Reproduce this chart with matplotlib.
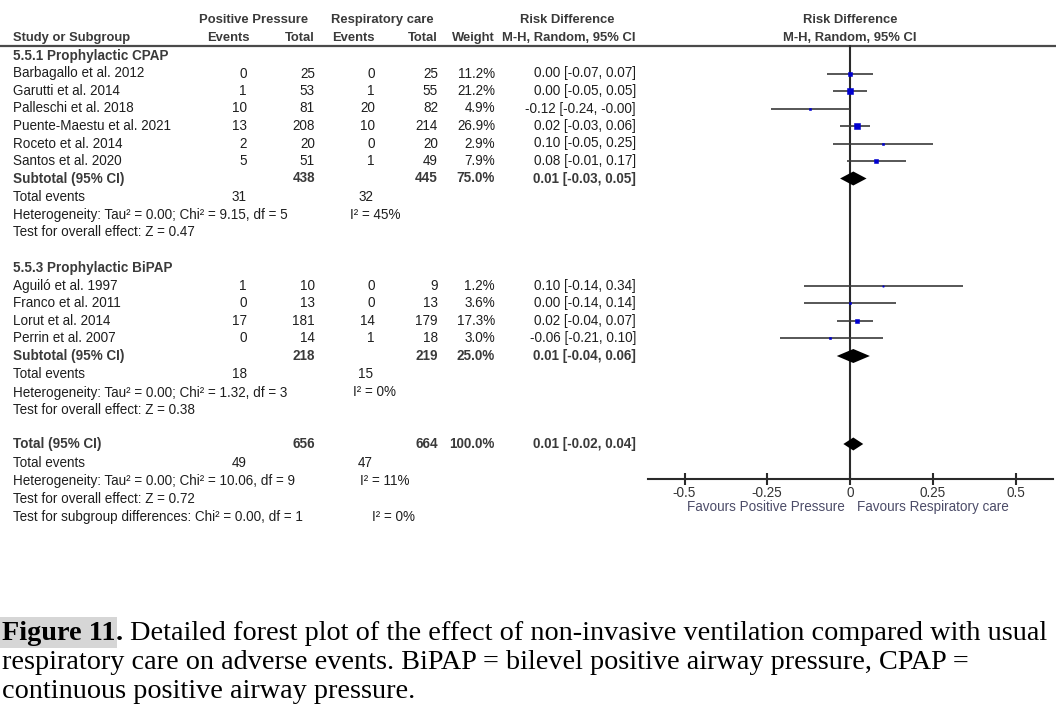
import matplotlib
matplotlib.use("Agg")
import matplotlib.pyplot as plt
from matplotlib.patches import Rectangle

# ---------------- data ----------------
cpap_label = "5.5.1 Prophylactic CPAP"
cpap_studies = ["Barbagallo et al. 2012", "Garutti et al. 2014", "Palleschi et al. 2018",
                "Puente-Maestu et al. 2021", "Roceto et al. 2014", "Santos et al. 2020"]
cpap_pp_events = [0, 1, 10, 13, 2, 5]
cpap_pp_total = [25, 53, 81, 208, 20, 51]
cpap_rc_events = [0, 1, 20, 10, 0, 1]
cpap_rc_total = [25, 55, 82, 214, 20, 49]
cpap_weight = [11.2, 21.2, 4.9, 26.9, 2.9, 7.9]
cpap_rd = [0.00, 0.00, -0.12, 0.02, 0.10, 0.08]
cpap_lo = [-0.07, -0.05, -0.24, -0.03, -0.05, -0.01]
cpap_hi = [0.07, 0.05, -0.0, 0.06, 0.25, 0.17]
cpap_sub_totals = [438, 445]
cpap_sub_weight = 75.0
cpap_sub_ci = [0.01, -0.03, 0.05]
cpap_events = [31, 32]
cpap_het = "Heterogeneity: Tau\u00b2 = 0.00; Chi\u00b2 = 9.15, df = 5"
cpap_i2 = "I\u00b2 = 45%"
cpap_z = "Test for overall effect: Z = 0.47"

bipap_label = "5.5.3 Prophylactic BiPAP"
bipap_studies = ["Aguil\u00f3 et al. 1997", "Franco et al. 2011", "Lorut et al. 2014", "Perrin et al. 2007"]
bipap_pp_events = [1, 0, 17, 0]
bipap_pp_total = [10, 13, 181, 14]
bipap_rc_events = [0, 0, 14, 1]
bipap_rc_total = [9, 13, 179, 18]
bipap_weight = [1.2, 3.6, 17.3, 3.0]
bipap_rd = [0.10, 0.00, 0.02, -0.06]
bipap_lo = [-0.14, -0.14, -0.04, -0.21]
bipap_hi = [0.34, 0.14, 0.07, 0.10]
bipap_sub_totals = [218, 219]
bipap_sub_weight = 25.0
bipap_sub_ci = [0.01, -0.04, 0.06]
bipap_events = [18, 15]
bipap_het = "Heterogeneity: Tau\u00b2 = 0.00; Chi\u00b2 = 1.32, df = 3"
bipap_i2 = "I\u00b2 = 0%"
bipap_z = "Test for overall effect: Z = 0.38"

total_totals = [656, 664]
total_weight = 100.0
total_ci = [0.01, -0.02, 0.04]
total_events = [49, 47]
total_het = "Heterogeneity: Tau\u00b2 = 0.00; Chi\u00b2 = 10.06, df = 9"
total_i2 = "I\u00b2 = 11%"
total_z = "Test for overall effect: Z = 0.72"
subgroup_test = "Test for subgroup differences: Chi\u00b2 = 0.00, df = 1"
subgroup_i2 = "I\u00b2 = 0%"

xticks = [-0.5, -0.25, 0, 0.25, 0.5]
xtick_labels = ["-0.5", "-0.25", "0", "0.25", "0.5"]
favours_left = "Favours Positive Pressure"
favours_right = "Favours Respiratory care"

caption_bold = "Figure 11"
caption_l1 = " Detailed forest plot of the effect of non-invasive ventilation compared with usual"
caption_l2 = "respiratory care on adverse events. BiPAP = bilevel positive airway pressure, CPAP ="
caption_l3 = "continuous positive airway pressure."

# ---------------- layout ----------------
W, H = 1056, 720
SANS = ["Liberation Sans", "DejaVu Sans"]
SERIF = ["Liberation Serif", "DejaVu Serif"]
FS = 9.75
FS_HDR = 9.4
HDR_C = "#3a3a3a"
TXT_C = "#1e1e1e"

X_LEFT = 13
C_EV1, C_TOT1, C_EV2, C_TOT2, C_W, C_CI = 247, 315, 375, 438, 495, 636
AX_L, AX_R = 648, 1053
ZERO_PX, UNIT_PX = 850, 331
AX_TOP, AX_BOT = 45, 479

fig = plt.figure(figsize=(W / 100, H / 100), dpi=100)
ax = fig.add_axes([0, 0, 1, 1])
ax.set_xlim(0, W)
ax.set_ylim(H, 0)
ax.axis("off")

axf = fig.add_axes([AX_L / W, 1 - AX_BOT / H, (AX_R - AX_L) / W, (AX_BOT - AX_TOP) / H])
axf.set_xlim((AX_L - ZERO_PX) / UNIT_PX, (AX_R - ZERO_PX) / UNIT_PX)
axf.set_ylim(AX_BOT, AX_TOP)
axf.patch.set_visible(False)
for s in ["top", "left", "right"]:
    axf.spines[s].set_visible(False)
axf.spines["bottom"].set_linewidth(1.5)
axf.spines["bottom"].set_color("#2a2a2a")
axf.set_yticks([])
axf.set_xticks(xticks)
axf.set_xticklabels(xtick_labels, family=SANS, fontsize=FS, color="#333333")
axf.tick_params(axis="x", direction="inout", length=8, width=1.5, color="#2a2a2a", pad=1)
axf.axvline(0, color="#2a2a2a", lw=1.5, zorder=1)


def t(x, y, s, ha="left", bold=False, color=None, size=None):
    ax.text(x, y, s, ha=ha, va="center", family=SANS,
            fontsize=size or (FS_HDR if bold else FS),
            fontweight="bold" if bold else "normal",
            color=color or (HDR_C if bold else TXT_C))


def ci_text(rd, lo, hi):
    return f"{rd:.2f} [{lo:.2f}, {hi:.2f}]"


# header
t((C_EV1 - 54 + C_TOT1) / 2, 20, "Positive Pressure", ha="center", bold=True)
t((C_EV2 - 48 + C_TOT2) / 2, 20, "Respiratory care", ha="center", bold=True)
t(567, 20, "Risk Difference", ha="center", bold=True)
t(ZERO_PX, 20, "Risk Difference", ha="center", bold=True)
t(X_LEFT, 38, "Study or Subgroup", bold=True)
t(C_EV1 + 3, 38, "Events", ha="right", bold=True)
t(C_TOT1, 38, "Total", ha="right", bold=True)
t(C_EV2, 38, "Events", ha="right", bold=True)
t(C_TOT2, 38, "Total", ha="right", bold=True)
t(C_W, 38, "Weight", ha="right", bold=True)
t(C_CI, 38, "M-H, Random, 95% CI", ha="right", bold=True)
t(ZERO_PX, 38, "M-H, Random, 95% CI", ha="center", bold=True)
ax.plot([0, W], [45.5, 45.5], color="#4a4a4a", lw=1.6, solid_capstyle="butt")


def diamond(y, rd, lo, hi, h):
    axf.fill([lo, rd, hi, rd], [y, y - h, y, y + h], color="black", zorder=3, lw=0)


def group(label, y0, studies, e1, n1, e2, n2, w, rd, lo, hi,
          sub_tot, sub_w, sub_ci, events, het, i2, z, i2x, step):
    t(X_LEFT, y0, label, bold=True, size=FS)
    for i, name in enumerate(studies):
        y = y0 + step * (i + 1)
        t(X_LEFT, y, name)
        t(C_EV1, y, str(e1[i]), ha="right")
        t(C_TOT1, y, str(n1[i]), ha="right")
        t(C_EV2, y, str(e2[i]), ha="right")
        t(C_TOT2, y, str(n2[i]), ha="right")
        t(C_W, y, f"{w[i]:.1f}%", ha="right")
        t(C_CI, y, ci_text(rd[i], lo[i], hi[i]), ha="right")
        axf.plot([lo[i], hi[i]], [y, y], color="#3a3a3a", lw=1.2, zorder=2, solid_capstyle="butt")
        side_px = 1.2 * w[i] ** 0.5
        axf.plot(rd[i], y, marker="s", ms=side_px * 0.72, color="#0000d0", mec="#0000d0",
                 mew=0.4, zorder=4)
    ys = y0 + step * (len(studies) + 1)
    t(X_LEFT, ys, "Subtotal (95% CI)", bold=True, size=FS)
    t(C_TOT1, ys, str(sub_tot[0]), ha="right", bold=True, size=FS)
    t(C_TOT2, ys, str(sub_tot[1]), ha="right", bold=True, size=FS)
    t(C_W, ys, f"{sub_w:.1f}%", ha="right", bold=True, size=FS)
    t(C_CI, ys, ci_text(*sub_ci), ha="right", bold=True, size=FS)
    diamond(ys, sub_ci[0], sub_ci[1], sub_ci[2], 7)
    t(X_LEFT, ys + 18.5, "Total events")
    t(C_EV1, ys + 18.5, str(events[0]), ha="right")
    t(C_EV2 - 2, ys + 18.5, str(events[1]), ha="right")
    t(X_LEFT, ys + 36.5, het)
    t(i2x, ys + 36.5, i2)
    t(X_LEFT, ys + 54, z)


group(cpap_label, 56, cpap_studies, cpap_pp_events, cpap_pp_total, cpap_rc_events, cpap_rc_total,
      cpap_weight, cpap_rd, cpap_lo, cpap_hi, cpap_sub_totals, cpap_sub_weight, cpap_sub_ci,
      cpap_events, cpap_het, cpap_i2, cpap_z, 350, 17.5)
group(bipap_label, 268, bipap_studies, bipap_pp_events, bipap_pp_total, bipap_rc_events, bipap_rc_total,
      bipap_weight, bipap_rd, bipap_lo, bipap_hi, bipap_sub_totals, bipap_sub_weight, bipap_sub_ci,
      bipap_events, bipap_het, bipap_i2, bipap_z, 353, 17.6)

# overall
yt = 444
t(X_LEFT, yt, "Total (95% CI)", bold=True, size=FS)
t(C_TOT1, yt, str(total_totals[0]), ha="right", bold=True, size=FS)
t(C_TOT2, yt, str(total_totals[1]), ha="right", bold=True, size=FS)
t(C_W, yt, f"{total_weight:.1f}%", ha="right", bold=True, size=FS)
t(C_CI, yt, ci_text(*total_ci), ha="right", bold=True, size=FS)
diamond(yt, total_ci[0], total_ci[1], total_ci[2], 6.5)
t(X_LEFT, 463, "Total events")
t(C_EV1, 463, str(total_events[0]), ha="right")
t(C_EV2 - 2, 463, str(total_events[1]), ha="right")
t(X_LEFT, 481, total_het)
t(360, 481, total_i2)
t(X_LEFT, 499, total_z)
t(X_LEFT, 517, subgroup_test)
t(372, 517, subgroup_i2)

# favours labels
FAV_C = "#4c4c68"
t(ZERO_PX - 5, 507, favours_left, ha="right", color=FAV_C)
t(ZERO_PX + 7, 507, favours_right, ha="left", color=FAV_C)

# caption
CAP_FS = 20.3
renderer = fig.canvas.get_renderer()
tb = ax.text(2, 640, caption_bold, ha="left", va="baseline", family=SERIF, fontsize=CAP_FS,
             fontweight="bold", color="black", zorder=2)
bb = tb.get_window_extent(renderer)
x_end = bb.x1
ax.add_patch(Rectangle((0, 617), x_end + 1, 31, color="#d6d6d6", lw=0, zorder=0))
tp = ax.text(x_end, 640, ".", ha="left", va="baseline", family=SERIF, fontsize=CAP_FS,
             fontweight="bold", color="black")
x_end = tp.get_window_extent(renderer).x1
ax.text(x_end, 640, caption_l1, ha="left", va="baseline", family=SERIF, fontsize=CAP_FS, color="black")
ax.text(2, 669, caption_l2, ha="left", va="baseline", family=SERIF, fontsize=CAP_FS, color="black")
ax.text(2, 698, caption_l3, ha="left", va="baseline", family=SERIF, fontsize=CAP_FS, color="black")

fig.savefig("out.png", dpi=100)
